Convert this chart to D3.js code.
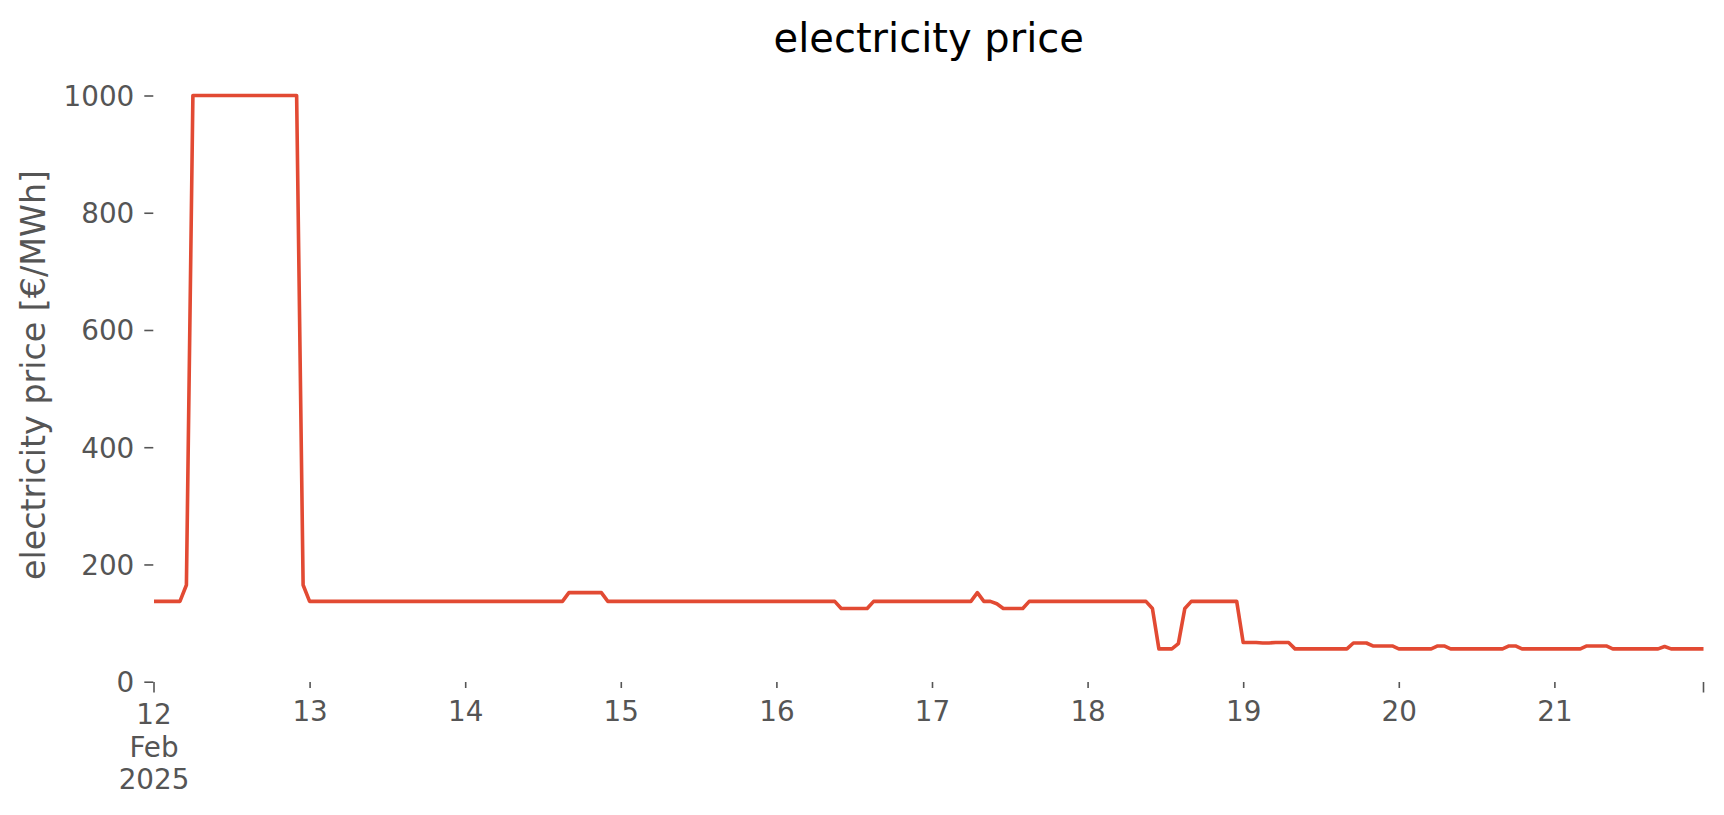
<!DOCTYPE html>
<html>
<head>
<meta charset="utf-8">
<script src="https://cdn.jsdelivr.net/npm/d3@7"></script>
<style>
  html, body { margin: 0; padding: 0; background: #ffffff; }
  svg { display: block; font-family: "DejaVu Sans", sans-serif; }
</style>
</head>
<body>
<svg id="chart" width="1724" height="815"></svg>
<script>
// ---- data (hourly, 12 Feb 2025 00:00 .. 21 Feb 2025 23:00) ----
const startTime = "2025-02-12T00:00:00Z";
const price_feb12 = [137,137,137,137,137,165,1000,1000,1000,1000,1000,1000,1000,1000,1000,1000,1000,1000,1000,1000,1000,1000,1000,165];
const price_feb13 = [137,137,137,137,137,137,137,137,137,137,137,137,137,137,137,137,137,137,137,137,137,137,137,137];
const price_feb14 = [137,137,137,137,137,137,137,137,137,137,137,137,137,137,137,137,152,152,152,152,152,152,137,137];
const price_feb15 = [137,137,137,137,137,137,137,137,137,137,137,137,137,137,137,137,137,137,137,137,137,137,137,137];
const price_feb16 = [137,137,137,137,137,137,137,137,137,137,125,125,125,125,125,137,137,137,137,137,137,137,137,137];
const price_feb17 = [137,137,137,137,137,137,137,152,137,137,133,125,125,125,125,137,137,137,137,137,137,137,137,137];
const price_feb18 = [137,137,137,137,137,137,137,137,137,137,125,56,56,56,65,125,137,137,137,137,137,137,137,137];
const price_feb19 = [67,67,67,66,66,67,67,67,56,56,56,56,56,56,56,56,56,66,66,66,61,61,61,61];
const price_feb20 = [56,56,56,56,56,56,61,61,56,56,56,56,56,56,56,56,56,61,61,56,56,56,56,56];
const price_feb21 = [56,56,56,56,56,61,61,61,61,56,56,56,56,56,56,56,56,60,56,56,56,56,56,56];

const yTicks = [0, 200, 400, 600, 800, 1000];
const dayTickLabels = ["13","14","15","16","17","18","19","20","21"];
const firstTickLabel = ["12", "Feb", "2025"];
const titleText = "electricity price";
const yLabelText = "electricity price [€/MWh]";

(function () {
  // ---- build series ----
  const allPrices = [].concat(price_feb12, price_feb13, price_feb14, price_feb15, price_feb16,
                              price_feb17, price_feb18, price_feb19, price_feb20, price_feb21);
  const t0 = new Date(startTime);
  const series = allPrices.map((v, i) => ({ t: d3.utcHour.offset(t0, i), v }));
  const tEnd = series[series.length - 1].t;

  // ---- layout ----
  const plotLeft = 154, plotRight = 1703.5, plotBottom = 682, plotTop = 68;
  const grey = "#555555";

  const svg = d3.select("#chart");

  const x = d3.scaleUtc().domain([t0, tEnd]).range([plotLeft, plotRight]);
  const y = d3.scaleLinear().domain([0, 1000]).range([681.7, 95.5]);

  // line
  const line = d3.line().x(d => x(d.t)).y(d => y(d.v));
  svg.append("path")
    .datum(series)
    .attr("fill", "none")
    .attr("stroke", "#E24A33")
    .attr("stroke-width", 3.6)
    .attr("stroke-linejoin", "round")
    .attr("d", line);

  // y axis
  const yAxis = d3.axisLeft(y).tickValues(yTicks).tickSize(9).tickPadding(10).tickFormat(d3.format("d"));
  const gy = svg.append("g").attr("transform", `translate(${plotLeft - 0.7},0)`).call(yAxis);
  gy.select(".domain").remove();
  gy.selectAll(".tick line").attr("stroke", grey).attr("stroke-width", 1.6);
  gy.selectAll(".tick text")
    .attr("fill", grey)
    .attr("font-size", "27.8px")
    .attr("font-family", "DejaVu Sans")
    .attr("dy", "0.36em");

  // x axis: minor day ticks with day labels
  const dayTicks = dayTickLabels.map((_, i) => d3.utcDay.offset(t0, i + 1));
  const xAxis = d3.axisBottom(x).tickValues(dayTicks).tickSize(6)
    .tickFormat((d, i) => dayTickLabels[i]);
  const gx = svg.append("g").attr("transform", `translate(0,${plotBottom})`).call(xAxis);
  gx.select(".domain").remove();
  gx.selectAll(".tick line").attr("stroke", grey).attr("stroke-width", 1.6);
  gx.selectAll(".tick text")
    .attr("fill", grey)
    .attr("font-size", "27.8px")
    .attr("font-family", "DejaVu Sans")
    .attr("y", 39).attr("dy", 0);

  // major ticks (start and end)
  const majorTicks = [t0, tEnd];
  const gm = svg.append("g").attr("transform", `translate(0,${plotBottom})`);
  gm.selectAll("line.major").data(majorTicks).enter().append("line")
    .attr("class", "major")
    .attr("x1", d => x(d)).attr("x2", d => x(d))
    .attr("y1", 0).attr("y2", 10.5)
    .attr("stroke", grey).attr("stroke-width", 1.6);

  // first (major) label, three lines
  const firstLabel = gm.append("text")
    .attr("x", x(t0))
    .attr("y", 42)
    .attr("text-anchor", "middle")
    .attr("fill", grey)
    .attr("font-size", "27.8px");
  firstLabel.selectAll("tspan").data(firstTickLabel).enter().append("tspan")
    .attr("x", x(t0))
    .attr("dy", (d, i) => i === 0 ? 0 : 32.5)
    .text(d => d);

  // title
  svg.append("text")
    .attr("x", (plotLeft + plotRight) / 2)
    .attr("y", 52)
    .attr("text-anchor", "middle")
    .attr("fill", "#000000")
    .attr("font-size", "40px")
    .text(titleText);

  // y label
  svg.append("text")
    .attr("transform", `translate(45,${(plotTop + plotBottom) / 2}) rotate(-90)`)
    .attr("text-anchor", "middle")
    .attr("fill", grey)
    .attr("font-size", "33.3px")
    .text(yLabelText);
})();
</script>
</body>
</html>
